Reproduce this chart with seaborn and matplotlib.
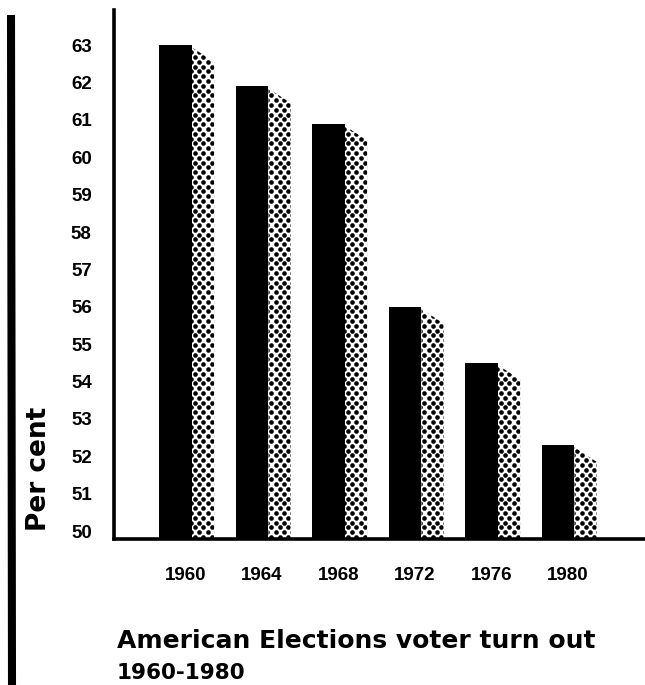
import numpy as np
import pandas as pd
import matplotlib
matplotlib.use("Agg")
import matplotlib.pyplot as plt
from matplotlib.patches import Polygon
from matplotlib.lines import Line2D
import seaborn as sns

# Turnout in presidential elections (per cent of voting-age population)
years = ["1960", "1964", "1968", "1972", "1976", "1980"]
turnout = [63.0, 61.9, 60.9, 56.0, 54.5, 52.3]
y_ticks = list(range(50, 64))
title_lines = ["American Elections voter turn out", "1960-1980"]
y_label = "Per cent"

sns.set_theme(style="white")
plt.rcParams["font.family"] = ["Liberation Sans", "DejaVu Sans"]

W, H = 645, 685
fig = plt.figure(figsize=(W / 100, H / 100), dpi=100)
ax = fig.add_axes([114 / W, 1 - 539 / H, (W - 114) / W, (539 - 10) / H])

df = pd.DataFrame({"year": years, "turnout": turnout})
bar_w = 0.43
sns.barplot(data=df, x="year", y="turnout", color="black", saturation=1,
            width=bar_w, errorbar=None, linewidth=0, ax=ax)

y_min, y_max = 49.786, 63.94
x_min, x_max = -0.804, 6.137

# stippled "shadow" beside each bar with a slanted top
shade_w = 0.29
px_x = 76.5   # pixels per category step
px_y = 37.38  # pixels per percentage point
dx_px, dy_px = 8.4, 4.8
for i, v in enumerate(turnout):
    xl = i + bar_w / 2
    xr = xl + shade_w
    poly = Polygon([(xl, y_min), (xl, v - 0.06), (xr, v - 0.45), (xr, y_min)],
                   closed=True, facecolor="none", edgecolor="none")
    ax.add_patch(poly)
    xs, ys = [], []
    n_rows = int((v - y_min) * px_y / dy_px) + 3
    n_cols = int(shade_w * px_x / dx_px) + 3
    for r in range(n_rows):
        off = (r % 2) * dx_px / 2
        for c in range(-1, n_cols):
            xs.append(xl + (c * dx_px + off + 3.0) / px_x)
            ys.append(y_min + (r * dy_px + 2) / px_y)
    sc = ax.scatter(xs, ys, s=11, color="black", linewidths=0, zorder=3)
    sc.set_clip_path(poly)

ax.set_ylim(y_min, y_max)
ax.set_xlim(x_min, x_max)

for side in ["top", "right"]:
    ax.spines[side].set_visible(False)
for side in ["left", "bottom"]:
    ax.spines[side].set_color("black")
    ax.spines[side].set_linewidth(2.6)

ax.set_yticks(y_ticks, labels=[str(t) for t in y_ticks],
              fontsize=13.5, fontweight="bold")
ax.set_xticks(np.arange(len(years)) + 0.13, labels=years,
              fontsize=13.5, fontweight="bold")
ax.tick_params(axis="y", length=0, pad=16, colors="black")
ax.tick_params(axis="x", length=0, pad=20, colors="black")
ax.set_xlabel("")
ax.set_ylabel("")

# heavy rule down the left margin
fig.add_artist(Line2D([11 / W, 12 / W], [1 - 15 / H, 0], transform=fig.transFigure,
                      color="black", linewidth=5.8, solid_capstyle="butt"))

fig.text(39 / W, 1 - 469 / H, y_label, rotation=90, ha="center", va="center",
         fontsize=19, fontweight="bold", family="DejaVu Sans", color="black")

fig.text(117 / W, 1 - 648 / H, title_lines[0], fontsize=18, fontweight="bold",
         family="DejaVu Sans", va="baseline", color="black")
fig.text(117 / W, 1 - 679 / H, title_lines[1], fontsize=15.5, fontweight="bold",
         family="DejaVu Sans", va="baseline", color="black")

fig.savefig("out.png", dpi=100)
